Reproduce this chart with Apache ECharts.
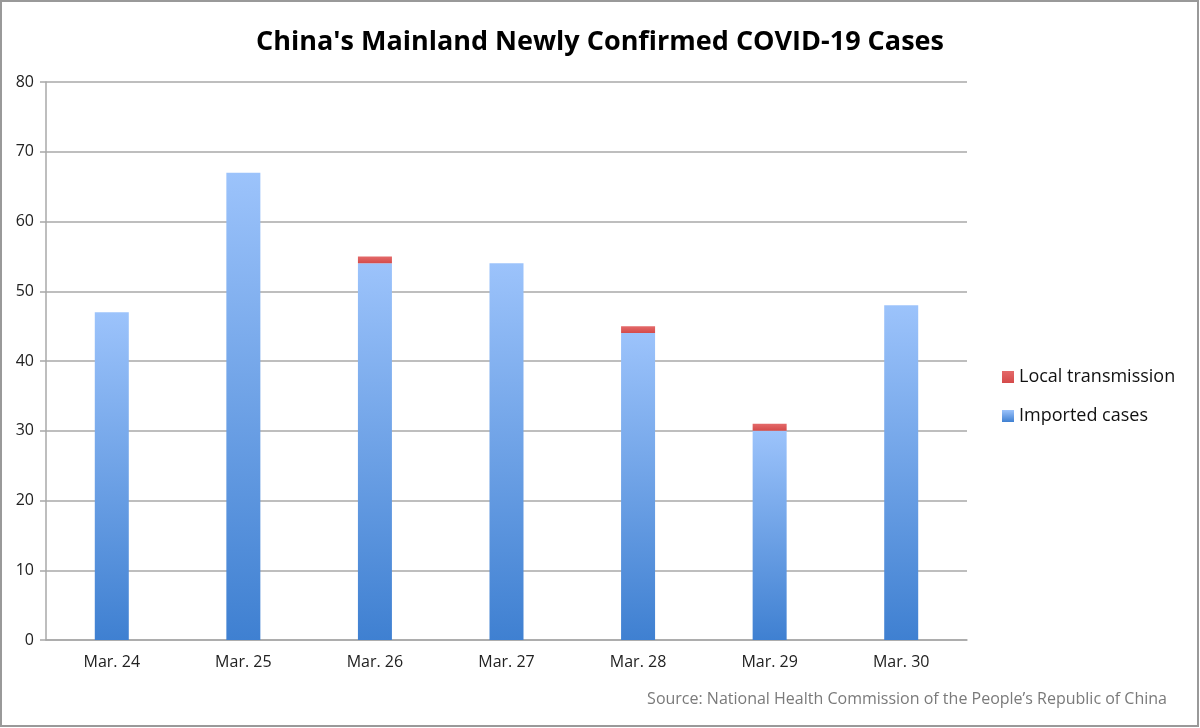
<!DOCTYPE html>
<html><head><meta charset="utf-8">
<script src="https://cdn.jsdelivr.net/npm/echarts@6/dist/echarts.min.js"></script>
<style>html,body{margin:0;padding:0;background:#fff}#c{width:1200px;height:728px}</style>
</head><body><div id="c"></div>
<script>
const categories = ['Mar. 24','Mar. 25','Mar. 26','Mar. 27','Mar. 28','Mar. 29','Mar. 30'];
const importedCases = [47, 67, 54, 54, 44, 30, 48];
const localTransmission = [0, 0, 1, 0, 1, 1, 0];
const yTicks = [0,10,20,30,40,50,60,70,80];

const font = '"Open Sans", "Liberation Sans", sans-serif';
const chart = echarts.init(document.getElementById('c'));
const blueGrad = new echarts.graphic.LinearGradient(0,0,0,1,[{offset:0,color:'#9cc3fb'},{offset:1,color:'#3f80d1'}]);
const redGrad = new echarts.graphic.LinearGradient(0,0,0,1,[{offset:0,color:'#e46a6a'},{offset:1,color:'#d44a4a'}]);
chart.setOption({
  animation:false,
  backgroundColor:'#fff',
  title:{text:"China's Mainland Newly Confirmed COVID-19 Cases",left:'center',top:24,
    textStyle:{fontFamily:font,fontWeight:'bold',fontSize:27,color:'#000'}},
  grid:{left:46,right:233,top:82,bottom:88,containLabel:false},
  legend:{orient:'vertical',left:997,top:363,itemGap:21,itemWidth:12,itemHeight:12,
    icon:'rect',data:['Local transmission','Imported cases'],
    textStyle:{fontFamily:font,fontSize:18,color:'#111'}},
  xAxis:{type:'category',data:categories,
    axisLine:{lineStyle:{color:'#a8a8a8',width:1.5}},axisTick:{show:false},
    axisLabel:{fontFamily:font,fontSize:16,color:'#222',margin:14},
    splitLine:{show:false}},
  yAxis:{type:'value',min:0,max:80,interval:10,
    axisLine:{show:true,lineStyle:{color:'#a8a8a8',width:1.5}},
    axisTick:{show:true,length:6,lineStyle:{color:'#a8a8a8',width:1.5}},
    axisLabel:{fontFamily:font,fontSize:16,color:'#222',margin:12,
      formatter:v=>yTicks.includes(v)?String(v):''},
    splitLine:{lineStyle:{color:'#a8a8a8',width:1.5}}},
  series:[
    {name:'Imported cases',type:'bar',stack:'a',data:importedCases,barWidth:34,
      itemStyle:{color:blueGrad},color:'#5b95e0'},
    {name:'Local transmission',type:'bar',stack:'a',data:localTransmission,barWidth:34,
      itemStyle:{color:redGrad},color:'#e05555'}
  ],
  graphic:[
    {type:'rect',shape:{x:1,y:1,width:1197,height:725},style:{fill:'none',stroke:'#999',lineWidth:2},silent:true},
    {type:'text',right:33,top:691,style:{text:'Source: National Health Commission of the People\u2019s Republic of China',
      font:'16px '+font,fill:'#7a7a7a'}}
  ]
});
</script></body></html>
